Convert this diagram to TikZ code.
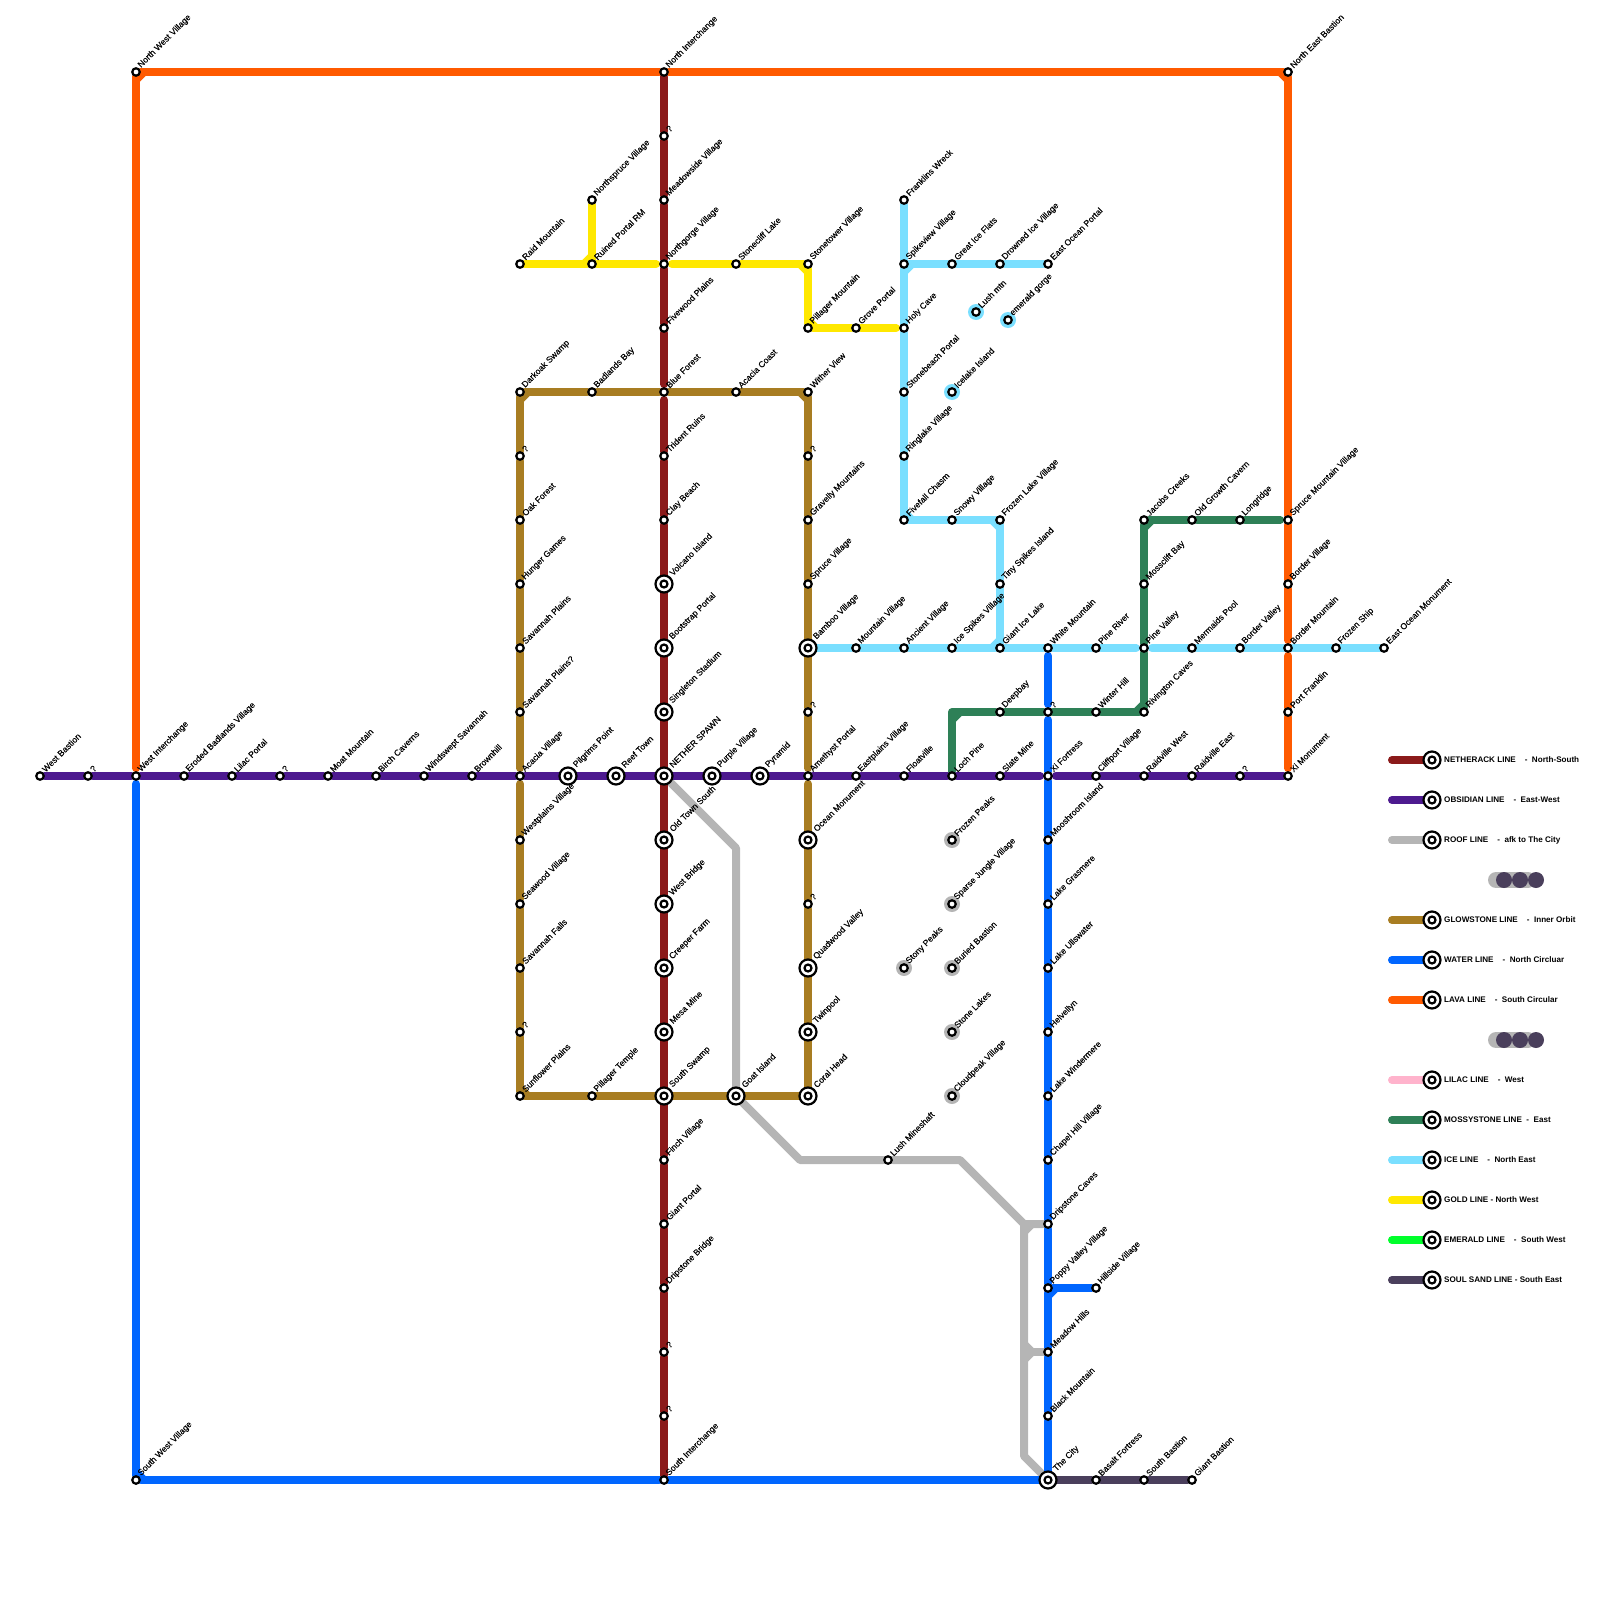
\documentclass[tikz,border=0pt]{standalone}
\usepackage{fontspec}
\setmainfont{Liberation Sans}
\newfontfamily\labfont[FakeBold=0.1]{Liberation Sans}
\usetikzlibrary{positioning,calc,backgrounds}
\definecolor{netherackc}{HTML}{8B1A1A}
\definecolor{obsidianc}{HTML}{4D1A8F}
\definecolor{roofc}{HTML}{B5B5B5}
\definecolor{glowc}{HTML}{A87D22}
\definecolor{waterc}{HTML}{0066FF}
\definecolor{lavac}{HTML}{FF5A00}
\definecolor{lilacc}{HTML}{FFB3CC}
\definecolor{mossc}{HTML}{2E8057}
\definecolor{icec}{HTML}{7ADFFF}
\definecolor{goldc}{HTML}{FFE800}
\definecolor{emeraldc}{HTML}{00FF2B}
\definecolor{soulc}{HTML}{4A3F5C}
\newcommand{\nick}[4]{\draw[#1,line cap=butt] ($(#2)+(#3)$) -- ($(#2)+(#4)$);}
\begin{document}
\begin{tikzpicture}[
  x=1pt, y=1pt,
  node distance=64pt and 48pt, on grid,
  lab/.style={rotate=45, anchor=west, inner sep=0pt, text=black, font=\labfont\fontsize{8.6pt}{10pt}\selectfont},
  stn/.style={circle, draw=black, fill=white, line width=2.2pt, minimum size=7.5pt, inner sep=0pt, label={[lab, label distance=2pt]45:#1}},
  hubbase/.style={circle, draw=black, fill=white, line width=2.2pt, minimum size=17pt, inner sep=0pt,
    path picture={\draw[line width=2.2pt] (path picture bounding box.center) circle (3.5pt);}},
  hub/.style={hubbase, label={[lab, label distance=3pt]45:#1}},
  halo/.style={circle, minimum size=16pt, inner sep=0pt},
  legtxt/.style={anchor=west, font=\bfseries\fontsize{8.1pt}{10pt}\selectfont, inner sep=0pt},
  rail/.style={line width=8pt, line cap=round, line join=round},
  netherack/.style={rail, draw=netherackc},
  obsidian/.style={rail, draw=obsidianc},
  roof/.style={rail, draw=roofc},
  glowstone/.style={rail, draw=glowc},
  water/.style={rail, draw=waterc},
  lava/.style={rail, draw=lavac},
  lilacline/.style={rail, draw=lilacc},
  mossy/.style={rail, draw=mossc},
  iceline/.style={rail, draw=icec},
  goldline/.style={rail, draw=goldc},
  emerald/.style={rail, draw=emeraldc},
  soulsand/.style={rail, draw=soulc},
  gs/.style={shorten <=3pt},
  ge/.style={shorten >=3pt}
]
\useasboundingbox (0,0) rectangle (1600,-1600);
% east-west row
\node[stn=West Bastion] (wbast) at (40,-776) {};
\node[stn=?, right=of wbast] (qa) {};
\node[stn=West Interchange, right=of qa] (wint) {};
\node[stn=Eroded Badlands Village, right=of wint] (erod) {};
\node[stn=Lilac Portal, right=of erod] (lilac) {};
\node[stn=?, right=of lilac] (qb) {};
\node[stn=Moat Mountain, right=of qb] (moat) {};
\node[stn=Birch Caverns, right=of moat] (birch) {};
\node[stn=Windswept Savannah, right=of birch] (wind) {};
\node[stn=Brownhill, right=of wind] (brown) {};
\node[stn=Acacia Village, right=of brown] (acav) {};
\node[hub=Pilgrims Point, right=of acav] (pilg) {};
\node[hub=Reef Town, right=of pilg] (reef) {};
\node[hub=NETHER SPAWN, right=of reef] (spawn) {};
\node[hub=Purple Village, right=of spawn] (purp) {};
\node[hub=Pyramid, right=of purp] (pyra) {};
\node[stn=Amethyst Portal, right=of pyra] (ameth) {};
\node[stn=Eastplains Village, right=of ameth] (eastp) {};
\node[stn=Floatville, right=of eastp] (floatv) {};
\node[stn=Loch Pine, right=of floatv] (loch) {};
\node[stn=Slate Mine, right=of loch] (slate) {};
\node[stn=Xi Fortress, right=of slate] (xifort) {};
\node[stn=Cliffport Village, right=of xifort] (cliff) {};
\node[stn=Raidville West, right=of cliff] (raidw) {};
\node[stn=Raidville East, right=of raidw] (raide) {};
\node[stn=?, right=of raide] (qc) {};
\node[stn=Xi Monument, right=of qc] (ximon) {};
% north-south column
\node[hub=Singleton Stadium, above=of spawn] (sing) {};
\node[hub=Bootstrap Portal, above=of sing] (boot) {};
\node[hub=Volcano Island, above=of boot] (volc) {};
\node[stn=Clay Beach, above=of volc] (clay) {};
\node[stn=Trident Ruins, above=of clay] (trid) {};
\node[stn=Blue Forest, above=of trid] (bluef) {};
\node[stn=Fivewood Plains, above=of bluef] (fivew) {};
\node[stn=Northgorge Village, above=of fivew] (ngorge) {};
\node[stn=Meadowside Village, above=of ngorge] (mead) {};
\node[stn=?, above=of mead] (qd) {};
\node[stn=North Interchange, above=of qd] (nint) {};
\node[hub=Old Town South, below=of spawn] (oldt) {};
\node[hub=West Bridge, below=of oldt] (wbridge) {};
\node[hub=Creeper Farm, below=of wbridge] (creep) {};
\node[hub=Mesa Mine, below=of creep] (mesa) {};
\node[hub=South Swamp, below=of mesa] (sswamp) {};
\node[stn=Finch Village, below=of sswamp] (finch) {};
\node[stn=Giant Portal, below=of finch] (gportal) {};
\node[stn=Dripstone Bridge, below=of gportal] (dbridge) {};
\node[stn=?, below=of dbridge] (qe) {};
\node[stn=?, below=of qe] (qf) {};
\node[stn=South Interchange, below=of qf] (sint) {};
% outer corners
\node[stn=North West Village, above=704pt of wint] (nwv) {};
\node[stn=South West Village, below=704pt of wint] (swv) {};
\node[stn=North East Bastion, above=704pt of ximon] (nebast) {};
% glowstone
\node[stn=Savannah Plains?, above=of acav] (savq) {};
\node[stn=Savannah Plains, above=of savq] (savp) {};
\node[stn=Hunger Games, above=of savp] (hunger) {};
\node[stn=Oak Forest, above=of hunger] (oakf) {};
\node[stn=?, above=of oakf] (qg) {};
\node[stn=Darkoak Swamp, above=of qg] (darko) {};
\node[stn=Westplains Village, below=of acav] (westp) {};
\node[stn=Seawood Village, below=of westp] (seaw) {};
\node[stn=Savannah Falls, below=of seaw] (savf) {};
\node[stn=?, below=of savf] (qh) {};
\node[stn=Sunflower Plains, below=of qh] (sunf) {};
\node[stn=Badlands Bay, left=72pt of bluef] (badl) {};
\node[stn=Acacia Coast, right=72pt of bluef] (acoast) {};
\node[stn=Pillager Temple, left=72pt of sswamp] (ptemple) {};
\node[hub=Goat Island, right=72pt of sswamp] (goat) {};
\node[hub=Coral Head, right=72pt of goat] (coral) {};
\node[stn=?, above=of ameth] (qi) {};
\node[hub=Bamboo Village, above=of qi] (bamboo) {};
\node[stn=Spruce Village, above=of bamboo] (sprv) {};
\node[stn=Gravelly Mountains, above=of sprv] (grav) {};
\node[stn=?, above=of grav] (qj) {};
\node[stn=Wither View, above=of qj] (wither) {};
\node[hub=Ocean Monument, below=of ameth] (ocean) {};
\node[stn=?, below=of ocean] (qk) {};
\node[hub=Quadwood Valley, below=of qk] (quad) {};
\node[hub=Twinpool, below=of quad] (twin) {};
% ice
\node[stn=Mountain Village, right=of bamboo] (mountv) {};
\node[stn=Ancient Village, right=of mountv] (ancient) {};
\node[stn=Ice Spikes Village, right=of ancient] (icesp) {};
\node[stn=Giant Ice Lake, right=of icesp] (gicel) {};
\node[stn=White Mountain, right=of gicel] (whitem) {};
\node[stn=Pine River, right=of whitem] (piner) {};
\node[stn=Pine Valley, right=of piner] (pinev) {};
\node[stn=Mermaids Pool, right=of pinev] (merm) {};
\node[stn=Border Valley, right=of merm] (bvalley) {};
\node[stn=Border Mountain, right=of bvalley] (bmtn) {};
\node[stn=Frozen Ship, right=of bmtn] (fship) {};
\node[stn=East Ocean Monument, right=of fship] (eom) {};
\node[stn=Tiny Spikes Island, above=of gicel] (tiny) {};
\node[stn=Frozen Lake Village, above=of tiny] (frozl) {};
\node[stn=Snowy Village, left=of frozl] (snowy) {};
\node[stn=Fivefall Chasm, left=of snowy] (fivef) {};
\node[stn=Ringlake Village, above=of fivef] (ringl) {};
\node[stn=Stonebeach Portal, above=of ringl] (sbeach) {};
\node[stn=Holy Cave, above=of sbeach] (holy) {};
\node[stn=Spikeview Village, above=of holy] (spike) {};
\node[stn=Franklins Wreck, above=of spike] (frank) {};
\node[stn=Great Ice Flats, right=of spike] (gflats) {};
\node[stn=Drowned Ice Village, right=of gflats] (drown) {};
\node[stn=East Ocean Portal, right=of drown] (eop) {};
\node[stn=Lush mtn] (lushm) at (976,-312) {};
\node[stn=emerald gorge] (emer) at (1008,-320) {};
\node[stn=Icelake Island, right=of sbeach] (icel) {};
% gold
\node[stn=Ruined Portal RM, left=72pt of ngorge] (ruined) {};
\node[stn=Raid Mountain, left=72pt of ruined] (raidm) {};
\node[stn=Northspruce Village, above=of ruined] (nspr) {};
\node[stn=Stonecliff Lake, right=72pt of ngorge] (slake) {};
\node[stn=Stonetower Village, right=72pt of slake] (stow) {};
\node[stn=Pillager Mountain, below=of stow] (pmtn) {};
\node[stn=Grove Portal, right=of pmtn] (grove) {};
% mossystone
\node[stn=?, below=of whitem] (ql) {};
\node[stn=Deepbay, left=of ql] (deepb) {};
\node[stn=Winter Hill, right=of ql] (winter) {};
\node[stn=Rivington Caves, right=of winter] (riving) {};
\node[stn=Mossclift Bay, above=of pinev] (mossb) {};
\node[stn=Jacobs Creeks, above=of mossb] (jacob) {};
\node[stn=Old Growth Cavern, right=of jacob] (ogc) {};
\node[stn=Longridge, right=of ogc] (longr) {};
\node[stn=Spruce Mountain Village, right=of longr] (spruce) {};
\node[stn=Border Village, below=of spruce] (bvill) {};
\node[stn=Port Franklin, below=of bmtn] (pfrank) {};
\coordinate[left=96pt of ql] (mosscor);
% water
\node[stn=Mooshroom Island, below=of xifort] (moosh) {};
\node[stn=Lake Grasmere, below=of moosh] (grasm) {};
\node[stn=Lake Ullswater, below=of grasm] (ullsw) {};
\node[stn=Helvellyn, below=of ullsw] (helv) {};
\node[stn=Lake Windermere, below=of helv] (winde) {};
\node[stn=Chapel Hill Village, below=of winde] (chapel) {};
\node[stn=Dripstone Caves, below=of chapel] (dcave) {};
\node[stn=Poppy Valley Village, below=of dcave] (poppy) {};
\node[stn=Meadow Hills, below=of poppy] (meadow) {};
\node[stn=Black Mountain, below=of meadow] (blackm) {};
\node[hub=The City, below=of blackm] (city) {};
\node[stn=Hillside Village, right=of poppy] (hill) {};
% soul sand
\node[stn=Basalt Fortress, right=of city] (basalt) {};
\node[stn=South Bastion, right=of basalt] (sbast) {};
\node[stn=Giant Bastion, right=of sbast] (gbast) {};
% roof
\node[stn=Frozen Peaks, below=of loch] (frpk) {};
\node[stn=Sparse Jungle Village, below=of frpk] (sparse) {};
\node[stn=Buried Bastion, below=of sparse] (buried) {};
\node[stn=Stony Peaks, left=of buried] (stony) {};
\node[stn=Stone Lakes, below=of buried] (stonel) {};
\node[stn=Cloudpeak Village, below=of stonel] (cloud) {};
\node[stn=Lush Mineshaft, right=224pt of finch] (lushs) {};
\coordinate (roofa) at (736,-848);
\coordinate (roofb) at (800,-1160);
\coordinate (roofc) at (960,-1160);
\coordinate (roofd) at (1024,-1224);
\coordinate (roofe) at (1024,-1456);
\coordinate (roofm) at (1024,-1352);
% legend
\node[hubbase] (lgnether) at (1432,-760) {};
\node[hubbase, below=40pt of lgnether] (lgobs) {};
\node[hubbase, below=40pt of lgobs] (lgroof) {};
\node[hubbase, below=80pt of lgroof] (lgglow) {};
\node[hubbase, below=40pt of lgglow] (lgwater) {};
\node[hubbase, below=40pt of lgwater] (lglava) {};
\node[hubbase, below=80pt of lglava] (lglilac) {};
\node[hubbase, below=40pt of lglilac] (lgmoss) {};
\node[hubbase, below=40pt of lgmoss] (lgice) {};
\node[hubbase, below=40pt of lgice] (lggold) {};
\node[hubbase, below=40pt of lggold] (lgemer) {};
\node[hubbase, below=40pt of lgemer] (lgsoul) {};
\node[legtxt] (txnether) at ($(lgnether)+(12,0)$) {NETHERACK LINE~~~~-~~North-South};
\node[legtxt] (txobs) at ($(lgobs)+(12,0)$) {OBSIDIAN LINE~~~~-~~East-West};
\node[legtxt] (txroof) at ($(lgroof)+(12,0)$) {ROOF LINE~~~~-~~afk to The City};
\node[legtxt] (txglow) at ($(lgglow)+(12,0)$) {GLOWSTONE LINE~~~~-~~Inner Orbit};
\node[legtxt] (txwater) at ($(lgwater)+(12,0)$) {WATER LINE~~~~-~~North Circluar};
\node[legtxt] (txlava) at ($(lglava)+(12,0)$) {LAVA LINE~~~~-~~South Circular};
\node[legtxt] (txlilac) at ($(lglilac)+(12,0)$) {LILAC LINE~~~~-~~West};
\node[legtxt] (txmoss) at ($(lgmoss)+(12,0)$) {MOSSYSTONE LINE~~-~~East};
\node[legtxt] (txice) at ($(lgice)+(12,0)$) {ICE LINE~~~~-~~North East};
\node[legtxt] (txgold) at ($(lggold)+(12,0)$) {GOLD LINE - North West};
\node[legtxt] (txemer) at ($(lgemer)+(12,0)$) {EMERALD LINE~~~~-~~South West};
\node[legtxt] (txsoul) at ($(lgsoul)+(12,0)$) {SOUL SAND LINE - South East};
\coordinate[left=40pt of lgnether] (enether);
\coordinate[left=40pt of lgobs] (eobs);
\coordinate[left=40pt of lgroof] (eroof);
\coordinate[left=40pt of lgglow] (eglow);
\coordinate[left=40pt of lgwater] (ewater);
\coordinate[left=40pt of lglava] (elava);
\coordinate[left=40pt of lglilac] (elilac);
\coordinate[left=40pt of lgmoss] (emoss);
\coordinate[left=40pt of lgice] (eice);
\coordinate[left=40pt of lggold] (egold);
\coordinate[left=40pt of lgemer] (eemer);
\coordinate[left=40pt of lgsoul] (esoul);
\node[halo, fill=soulc] (dota) at (1504,-880) {};
\node[halo, fill=soulc, right=16pt of dota] (dotb) {};
\node[halo, fill=soulc, right=16pt of dotb] (dotc) {};
\node[halo, fill=soulc] (dotd) at (1504,-1040) {};
\node[halo, fill=soulc, right=16pt of dotd] (dote) {};
\node[halo, fill=soulc, right=16pt of dote] (dotf) {};
\coordinate[left=8pt of dota] (dotaend);
\coordinate[left=8pt of dotd] (dotdend);
\begin{scope}[on background layer]
\node[halo, fill=icec] (halolush) at (lushm) {};
\node[halo, fill=icec] (haloemer) at (emer) {};
\node[halo, fill=icec] (haloicel) at (icel) {};
\node[halo, fill=roofc] (halofr) at (frpk) {};
\node[halo, fill=roofc] (halosp) at (sparse) {};
\node[halo, fill=roofc] (halobu) at (buried) {};
\node[halo, fill=roofc] (halost) at (stony) {};
\node[halo, fill=roofc] (halosl) at (stonel) {};
\node[halo, fill=roofc] (halocl) at (cloud) {};
% roof line
\draw[roof] (spawn) -- (roofa) -- (goat);
\draw[roof] (goat) -- (roofb) -- (lushs) -- (roofc) -- (roofd) -- (dcave);
\draw[roof] (roofd) -- (roofe) -- (city);
\draw[roof] (roofm) -- (meadow);
\nick{roof}{roofd}{8,0}{0,-8}
\nick{roof}{roofm}{8,0}{0,8}
\nick{roof}{roofm}{8,0}{0,-8}
% lava
\draw[lava, ge] (nwv) -- (wint);
\draw[lava] (nwv) -- (nint) -- (nebast) -- (spruce) -- (bvill);
\draw[lava, ge] (bvill) -- (bmtn);
\draw[lava, gs] (bmtn) -- (pfrank);
\draw[lava, ge] (pfrank) -- (ximon);
\nick{lava}{nwv}{8,0}{0,-8}
\nick{lava}{nebast}{-8,0}{0,-8}
% water
\draw[water, gs] (wint) -- (swv);
\draw[water] (swv) -- (sint) -- (city);
\draw[water, gs, ge] (whitem) -- (ql);
\draw[water, gs] (ql) -- (xifort);
\draw[water] (xifort) -- (moosh) -- (grasm) -- (ullsw) -- (helv) -- (winde) -- (chapel) -- (dcave) -- (poppy) -- (meadow) -- (blackm) -- (city);
\draw[water] (poppy) -- (hill);
\nick{water}{poppy}{8,0}{0,-8}
\nick{water}{swv}{8,0}{0,8}
% netherack
\draw[netherack, ge] (nint) -- (qd) -- (mead) -- (ngorge) -- (fivew) -- (bluef);
\draw[netherack, gs] (bluef) -- (trid);
\draw[netherack] (trid) -- (clay) -- (volc) -- (boot) -- (sing) -- (spawn) -- (oldt) -- (wbridge) -- (creep) -- (mesa) -- (sswamp) -- (finch) -- (gportal) -- (dbridge) -- (qe) -- (qf) -- (sint);
% glowstone
\draw[glowstone] (darko) -- (badl) -- (bluef) -- (acoast) -- (wither) -- (qj) -- (grav) -- (sprv) -- (bamboo) -- (qi);
\draw[glowstone, ge] (qi) -- (ameth);
\draw[glowstone, gs] (ameth) -- (ocean);
\draw[glowstone] (ocean) -- (qk) -- (quad) -- (twin) -- (coral) -- (goat) -- (sswamp) -- (ptemple) -- (sunf) -- (qh) -- (savf) -- (seaw) -- (westp);
\draw[glowstone, ge] (westp) -- (acav);
\draw[glowstone, gs] (acav) -- (savq);
\draw[glowstone] (savq) -- (savp) -- (hunger) -- (oakf) -- (qg) -- (darko);
\nick{glowstone}{darko}{8,0}{0,-8}
\nick{glowstone}{wither}{-8,0}{0,-8}
\nick{glowstone}{sunf}{8,0}{0,8}
% gold
\draw[goldline] (nspr) -- (ruined) -- (raidm);
\draw[goldline, ge] (ruined) -- (ngorge);
\draw[goldline, gs] (ngorge) -- (slake);
\draw[goldline] (slake) -- (stow) -- (pmtn) -- (grove);
\draw[goldline, ge] (grove) -- (holy);
\nick{goldline}{ruined}{-8,0}{0,8}
\nick{goldline}{stow}{-8,0}{0,-8}
\nick{goldline}{pmtn}{8,0}{0,8}
% ice
\draw[iceline] (frank) -- (spike) -- (holy) -- (sbeach) -- (ringl) -- (fivef) -- (snowy) -- (frozl) -- (tiny) -- (gicel);
\draw[iceline] (spike) -- (gflats) -- (drown) -- (eop);
\draw[iceline] (bamboo) -- (mountv) -- (ancient) -- (icesp) -- (gicel) -- (whitem) -- (piner);
\draw[iceline, ge] (piner) -- (pinev);
\draw[iceline, gs] (pinev) -- (merm);
\draw[iceline] (merm) -- (bvalley) -- (bmtn) -- (fship) -- (eom);
\nick{iceline}{spike}{8,0}{0,-8}
\nick{iceline}{gicel}{-8,0}{0,8}
\nick{iceline}{fivef}{8,0}{0,8}
\nick{iceline}{frozl}{-8,0}{0,-8}
% mossystone
\draw[mossy] (loch) -- (mosscor) -- (deepb) -- (ql) -- (winter) -- (riving) -- (pinev) -- (mossb) -- (jacob) -- (ogc) -- (longr);
\draw[mossy, ge] (longr) -- (spruce);
\nick{mossy}{mosscor}{8,0}{0,-8}
\nick{mossy}{riving}{-8,0}{0,8}
\nick{mossy}{jacob}{8,0}{0,-8}
% soul sand
\draw[soulsand] (city) -- (basalt) -- (sbast) -- (gbast);
% obsidian
\draw[obsidian] (wbast) -- (qa) -- (wint) -- (erod) -- (lilac) -- (qb) -- (moat) -- (birch) -- (wind) -- (brown) -- (acav) -- (pilg) -- (reef) -- (spawn) -- (purp) -- (pyra) -- (ameth) -- (eastp) -- (floatv) -- (loch) -- (slate);
\draw[obsidian, ge] (slate) -- (xifort);
\draw[obsidian, gs] (xifort) -- (cliff);
\draw[obsidian] (cliff) -- (raidw) -- (raide) -- (qc) -- (ximon);
% legend lines
\draw[netherack] (enether) -- (lgnether);
\draw[obsidian] (eobs) -- (lgobs);
\draw[roof] (eroof) -- (lgroof);
\draw[glowstone] (eglow) -- (lgglow);
\draw[water] (ewater) -- (lgwater);
\draw[lava] (elava) -- (lglava);
\draw[lilacline] (elilac) -- (lglilac);
\draw[mossy] (emoss) -- (lgmoss);
\draw[iceline] (eice) -- (lgice);
\draw[goldline] (egold) -- (lggold);
\draw[emerald] (eemer) -- (lgemer);
\draw[soulsand] (esoul) -- (lgsoul);
\draw[roof, line width=16pt] (dotaend) -- (dotc);
\draw[roof, line width=16pt] (dotdend) -- (dotf);
\end{scope}
\end{tikzpicture}
\end{document}
